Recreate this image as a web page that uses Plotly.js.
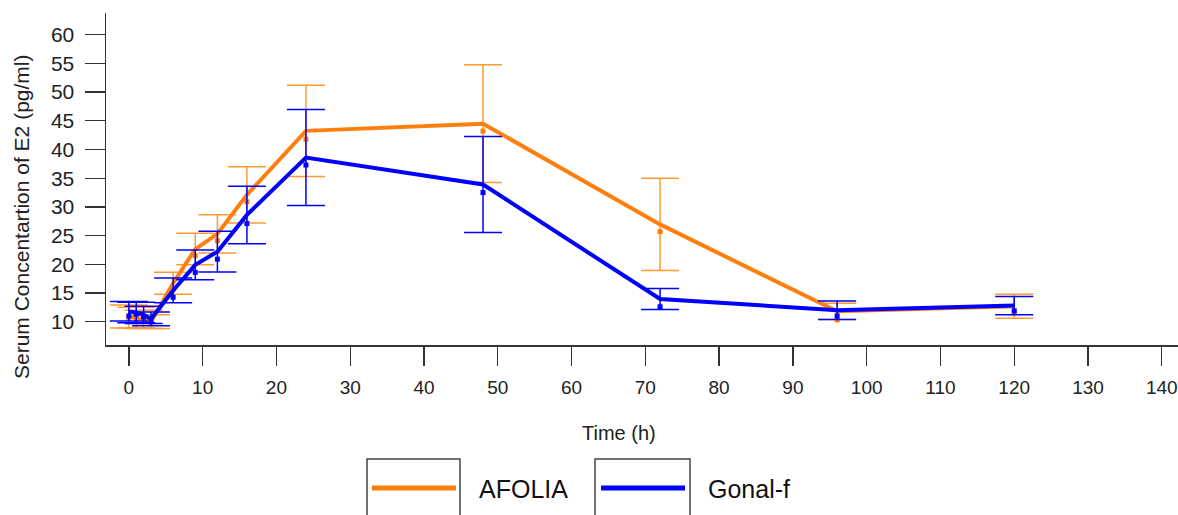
<!DOCTYPE html>
<html>
<head>
<meta charset="utf-8">
<script src="https://cdn.plot.ly/plotly-3.0.1.min.js"></script>
<style>html,body{margin:0;padding:0;background:#fff;}#chart{width:1178px;height:515px;}</style>
</head>
<body>
<div id="chart"></div>
<script>
// ---- data ----
var timeH = [0, 1, 2, 3, 6, 9, 12, 16, 24, 48, 72, 96, 120];

var afoliaMean = [10.9, 10.7, 10.4, 10.0, 16.7, 22.65, 25.3, 32.1, 43.25, 44.5, 26.95, 11.8, 12.7];
var afoliaSD   = [2.0, 1.8, 1.6, 1.2, 1.9, 2.75, 3.35, 4.9, 7.95, 10.25, 8.05, 1.4, 2.1];
var afoliaPt   = [10.6, 10.2, 10.0, 9.7, 15.6, 21.5, 24.1, 30.9, 41.8, 43.2, 25.7, 10.3, 11.5];

var gonalMean = [11.8, 11.6, 11.2, 10.5, 15.45, 19.9, 22.2, 28.6, 38.6, 33.9, 13.95, 12.0, 12.8];
var gonalSD   = [1.7, 1.8, 1.5, 1.2, 2.15, 2.6, 3.55, 5.0, 8.35, 8.35, 1.83, 1.6, 1.6];
var gonalPt   = [11.0, 11.3, 10.8, 10.3, 14.25, 18.6, 20.9, 27.1, 37.3, 32.5, 12.6, 11.0, 11.9];

var seriesNames = ['AFOLIA', 'Gonal-f'];
var xTicks = [0, 10, 20, 30, 40, 50, 60, 70, 80, 90, 100, 110, 120, 130, 140];
var yTicks = [10, 15, 20, 25, 30, 35, 40, 45, 50, 55, 60];

var ORANGE = '#ff7f0e';
var ORANGE_ERR = '#ff9a33';
var BLUE = '#0000ff';

// ---- layout geometry (pixels) ----
var W = 1178, H = 515;
var mL = 106, mR = 0, mT = 13, mB = 170;
var plotW = W - mL - mR, plotH = H - mT - mB;
function pxX(px) { return (px - mL) / plotW; }
function pxY(py) { return (H - mB - py) / plotH; }

var FONT = 'Liberation Sans, Arial, sans-serif';

function lineTrace(name, x, y, sd, color, errColor) {
  return {
    type: 'scatter', mode: 'lines', name: name, x: x, y: y,
    line: {color: color, width: 4},
    error_y: {type: 'data', array: sd, visible: true, color: errColor, thickness: 1.5, width: 19},
    hoverinfo: 'x+y', showlegend: false
  };
}
function pointTrace(name, x, y, color) {
  return {
    type: 'scatter', mode: 'markers', name: name, x: x, y: y,
    marker: {color: color, symbol: 'square', size: 5},
    showlegend: false
  };
}

var data = [
  lineTrace(seriesNames[0], timeH, afoliaMean, afoliaSD, ORANGE, ORANGE_ERR),
  pointTrace(seriesNames[0], timeH, afoliaPt, ORANGE),
  lineTrace(seriesNames[1], timeH, gonalMean, gonalSD, BLUE, BLUE),
  pointTrace(seriesNames[1], timeH, gonalPt, BLUE)
];

var layout = {
  width: W, height: H,
  margin: {l: mL, r: mR, t: mT, b: mB, pad: 0},
  paper_bgcolor: '#fff', plot_bgcolor: '#fff',
  font: {family: FONT, size: 19, color: '#222'},
  showlegend: false,
  xaxis: {
    range: [-3.1, 142.2], tickvals: xTicks, ticktext: xTicks.map(String),
    showgrid: false, zeroline: false,
    showline: true, linecolor: '#333', linewidth: 1.5,
    ticks: 'outside', ticklen: 19, tickwidth: 1.3, tickcolor: '#333',
    ticklabelstandoff: 6,
    tickfont: {family: FONT, size: 19, color: '#222'}
  },
  yaxis: {
    range: [5.94, 63.78], tickvals: yTicks, ticktext: yTicks.map(String),
    showgrid: false, zeroline: false,
    showline: true, linecolor: '#333', linewidth: 1.5,
    ticks: 'outside', ticklen: 20, tickwidth: 1.3, tickcolor: '#333',
    ticklabelstandoff: 6,
    tickfont: {family: FONT, size: 21, color: '#222'}
  },
  shapes: [
    {type: 'rect', xref: 'paper', yref: 'paper', x0: pxX(367), x1: pxX(460), y0: pxY(540), y1: pxY(459),
     line: {color: '#444', width: 1.5}, fillcolor: 'rgba(0,0,0,0)'},
    {type: 'rect', xref: 'paper', yref: 'paper', x0: pxX(595), x1: pxX(690), y0: pxY(540), y1: pxY(459),
     line: {color: '#444', width: 1.5}, fillcolor: 'rgba(0,0,0,0)'},
    {type: 'line', xref: 'paper', yref: 'paper', x0: pxX(372), x1: pxX(456), y0: pxY(488), y1: pxY(488),
     line: {color: ORANGE, width: 5}},
    {type: 'line', xref: 'paper', yref: 'paper', x0: pxX(601), x1: pxX(685), y0: pxY(488), y1: pxY(488),
     line: {color: BLUE, width: 5}}
  ],
  annotations: [
    {text: 'Time (h)', xref: 'paper', yref: 'paper', x: pxX(619), y: pxY(433),
     xanchor: 'center', yanchor: 'middle', showarrow: false,
     font: {family: FONT, size: 20, color: '#222'}},
    {text: 'Serum Concentartion of E2 (pg/ml)', xref: 'paper', yref: 'paper', x: pxX(21), y: pxY(217),
     xanchor: 'center', yanchor: 'middle', showarrow: false, textangle: -90,
     font: {family: FONT, size: 21, color: '#222'}},
    {text: seriesNames[0], xref: 'paper', yref: 'paper', x: pxX(477), y: pxY(489),
     xanchor: 'left', yanchor: 'middle', showarrow: false,
     font: {family: FONT, size: 25, color: '#111'}},
    {text: seriesNames[1], xref: 'paper', yref: 'paper', x: pxX(706), y: pxY(489),
     xanchor: 'left', yanchor: 'middle', showarrow: false,
     font: {family: FONT, size: 25, color: '#111'}}
  ]
};

Plotly.newPlot('chart', data, layout, {displayModeBar: false, staticPlot: true});
</script>
</body>
</html>
